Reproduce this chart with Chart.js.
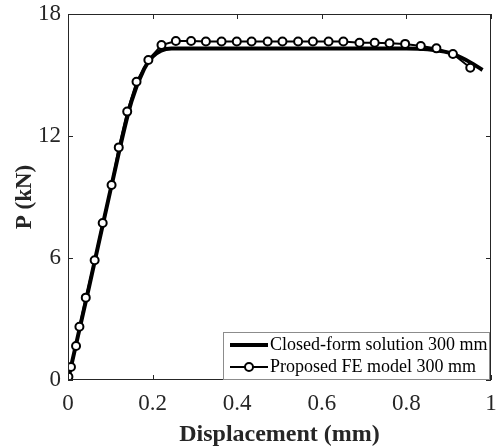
<!DOCTYPE html>
<html>
<head>
<meta charset="utf-8">
<script src="https://cdn.jsdelivr.net/npm/chart.js@4"></script>
<style>
  html, body { margin: 0; padding: 0; background: #fff; }
  #wrap { width: 497px; height: 447px; }
</style>
</head>
<body>
<div id="wrap"><canvas id="c" width="497" height="447"></canvas></div>
<script>
// values
const xTicks = [0, 0.2, 0.4, 0.6, 0.8, 1];
const yTicks = [0, 6, 12, 18];

const closedX = [0, 0.05, 0.1, 0.15, 0.18, 0.2, 0.22, 0.245, 0.5, 0.8, 0.85, 0.9, 0.94, 0.98];
const closedY = [0, 4.6, 9.3, 13.7, 15.3, 15.9, 16.2, 16.3, 16.3, 16.3, 16.27, 16.1, 15.75, 15.25];

const feX = [0.001, 0.007, 0.019, 0.027, 0.042, 0.063, 0.082, 0.103, 0.120, 0.140, 0.162, 0.190, 0.221,
  0.255, 0.291, 0.326, 0.363, 0.399, 0.434, 0.472, 0.507, 0.544, 0.579, 0.616, 0.651, 0.689, 0.725,
  0.760, 0.797, 0.834, 0.871, 0.910, 0.951];
const feY = [0.16, 0.64, 1.67, 2.62, 4.05, 5.89, 7.72, 9.59, 11.44, 13.20, 14.67, 15.74, 16.47,
  16.67, 16.67, 16.65, 16.65, 16.65, 16.65, 16.65, 16.65, 16.65, 16.65, 16.65, 16.65, 16.59, 16.59,
  16.56, 16.53, 16.43, 16.31, 16.03, 15.36];

const legendLabels = ['Closed-form solution 300 mm', 'Proposed FE model 300 mm'];

const serif = '"Liberation Serif", "Times New Roman", serif';
const axisColor = '#262626';

// ticks pointing inward on all four sides + legend box in the lower right
const boxPlugin = {
  id: 'box',
  afterDraw(chart) {
    const { ctx, chartArea: a, scales } = chart;
    ctx.save();
    ctx.strokeStyle = axisColor;
    ctx.lineWidth = 1;
    ctx.strokeRect(a.left + 0.5, a.top + 0.5, a.right - a.left - 1, a.bottom - a.top - 1);
    ctx.beginPath();
    xTicks.forEach(v => {
      const x = Math.round(scales.x.getPixelForValue(v)) + 0.5;
      ctx.moveTo(x, a.bottom); ctx.lineTo(x, a.bottom - 5);
      ctx.moveTo(x, a.top); ctx.lineTo(x, a.top + 5);
    });
    yTicks.forEach(v => {
      const y = Math.round(scales.y.getPixelForValue(v)) + 0.5;
      ctx.moveTo(a.left, y); ctx.lineTo(a.left + 5, y);
      ctx.moveTo(a.right, y); ctx.lineTo(a.right - 5, y);
    });
    ctx.stroke();

    // legend
    const bx = 223, by = 332, bw = 266, bh = 47;
    ctx.fillStyle = '#fff';
    ctx.fillRect(bx, by, bw, bh);
    ctx.strokeStyle = '#8c8c8c';
    ctx.strokeRect(bx + 0.5, by + 0.5, bw, bh);
    ctx.font = '18px ' + serif;
    ctx.fillStyle = '#000';
    ctx.textBaseline = 'middle';
    const rows = [345, 367];
    ctx.strokeStyle = '#000';
    ctx.lineWidth = 4;
    ctx.beginPath(); ctx.moveTo(230, rows[0]); ctx.lineTo(268, rows[0]); ctx.stroke();
    ctx.fillText(legendLabels[0], 270, rows[0]);
    ctx.lineWidth = 2;
    ctx.beginPath(); ctx.moveTo(230, rows[1]); ctx.lineTo(268, rows[1]); ctx.stroke();
    ctx.beginPath(); ctx.arc(249, rows[1], 4, 0, Math.PI * 2);
    ctx.fillStyle = '#fff'; ctx.fill(); ctx.stroke();
    ctx.fillStyle = '#000';
    ctx.fillText(legendLabels[1], 270, rows[1]);
    ctx.restore();
  }
};

new Chart(document.getElementById('c'), {
  type: 'scatter',
  data: {
    datasets: [
      {
        label: legendLabels[0],
        data: closedX.map((x, i) => ({ x, y: closedY[i] })),
        showLine: true,
        borderColor: '#000',
        borderWidth: 4,
        pointRadius: 0,
        cubicInterpolationMode: 'monotone',
        order: 2
      },
      {
        label: legendLabels[1],
        data: feX.map((x, i) => ({ x, y: feY[i] })),
        showLine: true,
        borderColor: '#000',
        borderWidth: 2,
        pointRadius: 4,
        pointBorderWidth: 2,
        pointBackgroundColor: '#fff',
        pointBorderColor: '#000',
        tension: 0,
        order: 1
      }
    ]
  },
  options: {
    responsive: false,
    animation: false,
    layout: { padding: { top: 14, right: 4, left: 0, bottom: 0 } },
    plugins: { legend: { display: false }, tooltip: { enabled: false } },
    scales: {
      x: {
        type: 'linear',
        min: 0, max: 1,
        afterBuildTicks: s => { s.ticks = xTicks.map(v => ({ value: v })); },
        afterFit: s => { s.height = 67; s.paddingLeft = 0; s.paddingRight = 0; },
        grid: { display: false, drawTicks: false },
        border: { display: false },
        ticks: {
          padding: 10,
          color: axisColor,
          font: { family: serif, size: 23 },
          callback: v => String(v)
        },
        title: {
          display: true,
          text: 'Displacement (mm)',
          color: axisColor,
          font: { family: serif, size: 24, weight: 'bold', lineHeight: 1 },
          padding: { top: 0, bottom: 0 }
        }
      },
      y: {
        type: 'linear',
        min: 0, max: 18,
        afterBuildTicks: s => { s.ticks = yTicks.map(v => ({ value: v })); },
        afterFit: s => { s.width = 68; s.paddingTop = 0; s.paddingBottom = 0; },
        grid: { display: false, drawTicks: false },
        border: { display: false },
        ticks: {
          padding: 7,
          color: axisColor,
          font: { family: serif, size: 23 }
        },
        title: {
          display: true,
          text: 'P (kN)',
          color: axisColor,
          font: { family: serif, size: 23, weight: 'bold' },
          padding: { top: 11, bottom: 0 }
        }
      }
    }
  },
  plugins: [boxPlugin]
});
</script>
</body>
</html>
